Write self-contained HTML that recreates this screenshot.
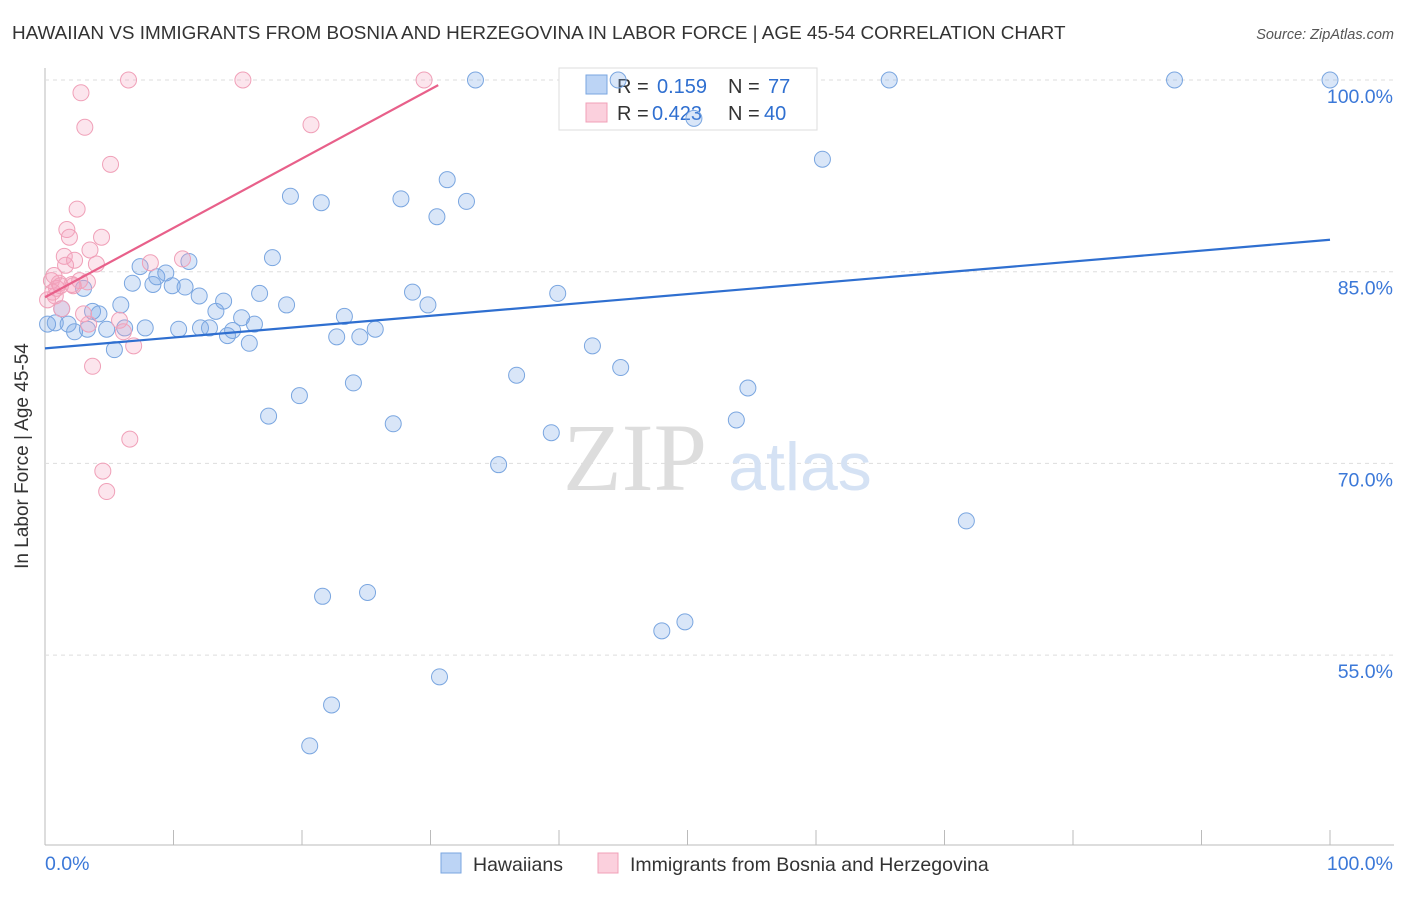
<!DOCTYPE html>
<html><head><meta charset="utf-8"><style>
body{margin:0;background:#fff;font-family:"Liberation Sans",sans-serif;}
svg text{font-family:"Liberation Sans",sans-serif;}
</style></head><body>
<svg id="c" width="1406" height="892">
<text x="12" y="39" font-size="18.9" fill="#333">HAWAIIAN VS IMMIGRANTS FROM BOSNIA AND HERZEGOVINA IN LABOR FORCE | AGE 45-54 CORRELATION CHART</text>
<text x="1394" y="39" font-size="14.5" fill="#555" font-style="italic" text-anchor="end">Source: ZipAtlas.com</text>
<g id="grid"></g>
<text x="635" y="490" font-size="96" fill="#ddd" text-anchor="middle" style="font-family:'Liberation Serif',serif">ZIP</text>
<text x="800" y="490" font-size="68" fill="#d5e2f4" text-anchor="middle">atlas</text>
<text x="28" y="456" font-size="19" fill="#333" text-anchor="middle" transform="rotate(-90 28 456)">In Labor Force | Age 45-54</text>
<g>
<rect x="559" y="68" width="258" height="62" fill="#fff" stroke="#ddd"/>
<rect x="586" y="75" width="21" height="19" fill="#bcd4f5" stroke="#7aa6e0"/>
<text x="617" y="93" font-size="20" fill="#333">R =</text>
<text x="657" y="93" font-size="20" fill="#2f6fd0">0.159</text>
<text x="728" y="93" font-size="20" fill="#333">N =</text>
<text x="768" y="93" font-size="20" fill="#2f6fd0">77</text>
<rect x="586" y="103" width="21" height="19" fill="#fbd0dd" stroke="#f0a0b8"/>
<text x="617" y="120" font-size="20" fill="#333">R =</text>
<text x="652" y="120" font-size="20" fill="#2f6fd0">0.423</text>
<text x="728" y="120" font-size="20" fill="#333">N =</text>
<text x="764" y="120" font-size="20" fill="#2f6fd0">40</text>
</g>
<g id="pts"></g>
<g id="lines"></g>
<g>
<rect x="441" y="853" width="20" height="20" fill="#bcd4f5" stroke="#7aa6e0"/>
<text x="473" y="871" font-size="19.5" fill="#333">Hawaiians</text>
<rect x="598" y="853" width="20" height="20" fill="#fbd0dd" stroke="#f0a0b8"/>
<text x="630" y="871" font-size="19.5" fill="#333">Immigrants from Bosnia and Herzegovina</text>
</g>
</svg>
<script>
const yTicks=[100,85,70,55];
const yTickLabels=["100.0%","85.0%","70.0%","55.0%"];
const xTickLabels=["0.0%","100.0%"];
const blueX=[0.2,0.8,1.3,1.8,2.3,3.0,3.3,3.7,4.2,4.8,5.4,5.9,6.2,6.8,7.4,7.8,8.4,8.7,9.4,9.9,10.4,10.9,11.2,12.0,12.1,12.8,13.3,13.9,14.2,14.6,15.3,15.9,16.3,16.7,17.4,17.7,18.8,19.1,19.8,20.6,21.5,21.6,22.3,22.7,23.3,24.0,24.5,25.1,25.7,27.1,27.7,28.6,29.8,30.5,30.7,31.3,32.8,33.5,35.3,36.7,39.4,39.9,42.6,44.6,44.8,48.0,49.8,50.5,53.8,54.7,60.5,65.7,71.7,87.9,100];
const blueY=[80.9,81.0,82.1,80.9,80.3,83.7,80.5,81.9,81.7,80.5,78.9,82.4,80.6,84.1,85.4,80.6,84.0,84.6,84.9,83.9,80.5,83.8,85.8,83.1,80.6,80.6,81.9,82.7,80.0,80.4,81.4,79.4,80.9,83.3,73.7,86.1,82.4,90.9,75.3,47.9,90.4,59.6,51.1,79.9,81.5,76.3,79.9,59.9,80.5,73.1,90.7,83.4,82.4,89.3,53.3,92.2,90.5,100,69.9,76.9,72.4,83.3,79.2,100,77.5,56.9,57.6,97.0,73.4,75.9,93.8,100,65.5,100,100];
const pinkX=[0.5,0.7,0.8,0.9,1.1,1.3,1.5,1.6,1.7,1.9,2.1,2.3,2.5,2.7,2.8,3.0,3.1,3.3,3.5,3.7,4.0,4.4,4.5,4.8,5.1,5.8,6.1,6.5,6.6,6.9,8.2,10.7,15.4,20.7,29.5,1.2,2.2,3.4,0.6,0.2];
const pinkY=[84.3,84.7,83.1,83.7,84.1,82.1,86.2,85.5,88.3,87.7,84.0,85.9,89.9,84.3,99.0,81.7,96.3,84.2,86.7,77.6,85.6,87.7,69.4,67.8,93.4,81.2,80.3,100,71.9,79.2,85.7,86.0,100,96.5,100,83.9,83.9,80.9,83.4,82.8];
const blueTrendX=[0,100];
const blueTrendY=[79.0,87.5];
const pinkTrendX=[0,30.6];
const pinkTrendY=[83.0,99.6];
const X=v=>45+v*12.85, Y=v=>80+(100-v)*12.78;
const NS="http://www.w3.org/2000/svg";
function mk(tag,attrs,parent){const e=document.createElementNS(NS,tag);for(const k in attrs)e.setAttribute(k,attrs[k]);parent.appendChild(e);return e;}
const grid=document.getElementById('grid'),pts=document.getElementById('pts'),lines=document.getElementById('lines');
let ax=mk('line',{x1:45,y1:68,x2:45,y2:845,stroke:'#bbb'},grid);


let xa=mk('line',{x1:45,y1:845,x2:1394,y2:845,stroke:'#bbb'},grid);


yTicks.forEach((t,i)=>{
 const g=mk('line',{x1:45,y1:Y(t),x2:1394,y2:Y(t),stroke:'#ddd','stroke-dasharray':'4,4'},grid);
 
 
 const tx=mk('text',{x:1393,y:Y(t)+23,'font-size':19.5,fill:'#3b78d8','text-anchor':'end'},grid);
 tx.textContent=yTickLabels[i];
 
 
});
for(let i=0;i<=10;i++){
 const t=mk('line',{x1:X(i*10),y1:830,x2:X(i*10),y2:845,stroke:'#bbb'},grid);
 
 
}
[[0,45,'start'],[1,1393,'end']].forEach(([i,x,a])=>{
 const tx=mk('text',{x:x,y:870,'font-size':19.5,fill:'#3b78d8','text-anchor':a},grid);
 tx.textContent=xTickLabels[i];
 
 
});
blueX.forEach((v,i)=>{
 const c=mk('circle',{cx:X(v),cy:Y(blueY[i]),r:8,fill:'rgba(120,165,230,0.28)',stroke:'#7aa6e0','stroke-width':1},pts);
 
 
});
pinkX.forEach((v,i)=>{
 const c=mk('circle',{cx:X(v),cy:Y(pinkY[i]),r:8,fill:'rgba(245,160,190,0.28)',stroke:'#f0a0b8','stroke-width':1},pts);
 
 
});
let bl=mk('line',{x1:X(blueTrendX[0]),y1:Y(blueTrendY[0]),x2:X(blueTrendX[1]),y2:Y(blueTrendY[1]),stroke:'#2f6fd0','stroke-width':2.2},lines);


let pl=mk('line',{x1:X(pinkTrendX[0]),y1:Y(pinkTrendY[0]),x2:X(pinkTrendX[1]),y2:Y(pinkTrendY[1]),stroke:'#e8608a','stroke-width':2.2},lines);


</script>
</body></html>
